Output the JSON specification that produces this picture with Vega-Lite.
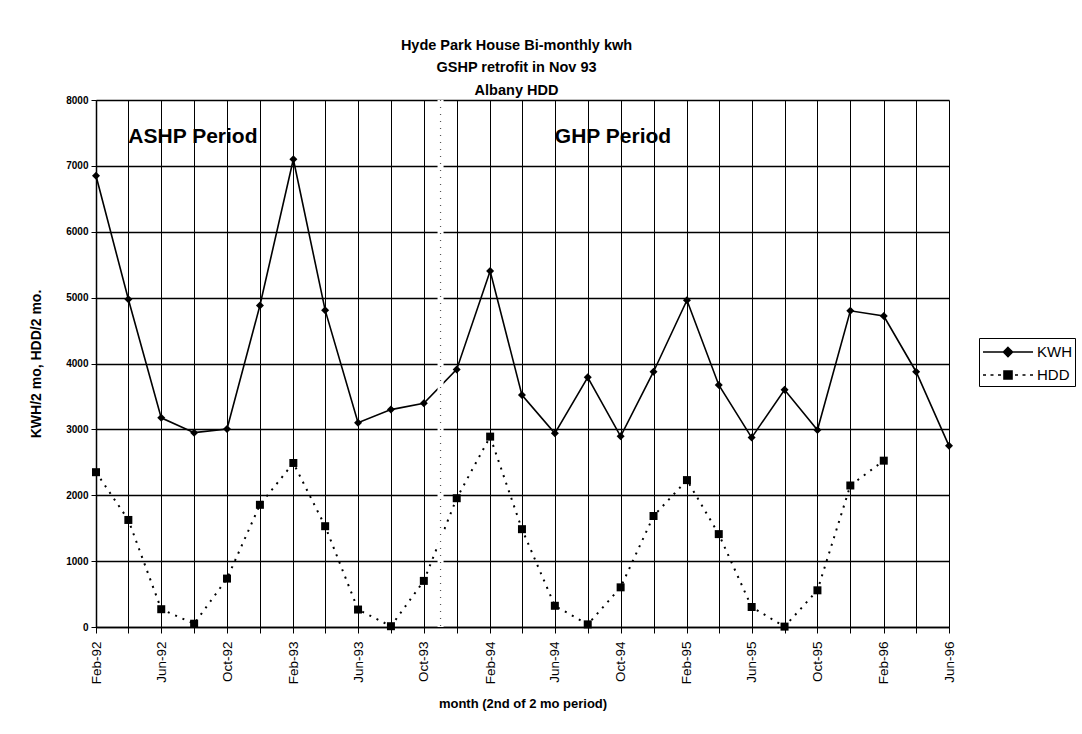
{
  "$schema": "https://vega.github.io/schema/vega-lite/v6.json",
  "width": 853,
  "height": 527,
  "autosize": {"type": "none"},
  "padding": {"left": 96, "top": 100, "right": 133, "bottom": 107},
  "background": "white",
  "config": {
    "view": {"stroke": null},
    "font": "Liberation Sans",
    "axis": {"gridColor": "black", "gridOpacity": 1, "domainColor": "black", "tickColor": "black", "labelColor": "black", "titleColor": "black"}
  },
  "title": {
    "text": ["Hyde Park House Bi-monthly kwh", "GSHP retrofit in Nov 93", "Albany HDD"],
    "font": "Liberation Sans",
    "fontSize": 14.5,
    "fontWeight": "bold",
    "lineHeight": 22.5,
    "anchor": "middle",
    "frame": "group",
    "offset": -3,
    "dx": -6,
    "color": "black"
  },
  "datasets": {
    "series": [
      {"date": "1992-02-01", "series": "KWH", "value": 6850},
      {"date": "1992-04-01", "series": "KWH", "value": 4975},
      {"date": "1992-06-01", "series": "KWH", "value": 3175},
      {"date": "1992-08-01", "series": "KWH", "value": 2950},
      {"date": "1992-10-01", "series": "KWH", "value": 3005},
      {"date": "1992-12-01", "series": "KWH", "value": 4880},
      {"date": "1993-02-01", "series": "KWH", "value": 7100},
      {"date": "1993-04-01", "series": "KWH", "value": 4810},
      {"date": "1993-06-01", "series": "KWH", "value": 3100},
      {"date": "1993-08-01", "series": "KWH", "value": 3300},
      {"date": "1993-10-01", "series": "KWH", "value": 3395},
      {"date": "1993-12-01", "series": "KWH", "value": 3910},
      {"date": "1994-02-01", "series": "KWH", "value": 5405},
      {"date": "1994-04-01", "series": "KWH", "value": 3520},
      {"date": "1994-06-01", "series": "KWH", "value": 2940},
      {"date": "1994-08-01", "series": "KWH", "value": 3790},
      {"date": "1994-10-01", "series": "KWH", "value": 2895},
      {"date": "1994-12-01", "series": "KWH", "value": 3875},
      {"date": "1995-02-01", "series": "KWH", "value": 4960},
      {"date": "1995-04-01", "series": "KWH", "value": 3675},
      {"date": "1995-06-01", "series": "KWH", "value": 2875},
      {"date": "1995-08-01", "series": "KWH", "value": 3600},
      {"date": "1995-10-01", "series": "KWH", "value": 2990},
      {"date": "1995-12-01", "series": "KWH", "value": 4800},
      {"date": "1996-02-01", "series": "KWH", "value": 4720},
      {"date": "1996-04-01", "series": "KWH", "value": 3875},
      {"date": "1996-06-01", "series": "KWH", "value": 2750},
      {"date": "1992-02-01", "series": "HDD", "value": 2350},
      {"date": "1992-04-01", "series": "HDD", "value": 1625},
      {"date": "1992-06-01", "series": "HDD", "value": 270},
      {"date": "1992-08-01", "series": "HDD", "value": 50},
      {"date": "1992-10-01", "series": "HDD", "value": 735},
      {"date": "1992-12-01", "series": "HDD", "value": 1855},
      {"date": "1993-02-01", "series": "HDD", "value": 2490},
      {"date": "1993-04-01", "series": "HDD", "value": 1530},
      {"date": "1993-06-01", "series": "HDD", "value": 265},
      {"date": "1993-08-01", "series": "HDD", "value": 12},
      {"date": "1993-10-01", "series": "HDD", "value": 700},
      {"date": "1993-12-01", "series": "HDD", "value": 1955},
      {"date": "1994-02-01", "series": "HDD", "value": 2890},
      {"date": "1994-04-01", "series": "HDD", "value": 1485},
      {"date": "1994-06-01", "series": "HDD", "value": 322},
      {"date": "1994-08-01", "series": "HDD", "value": 40},
      {"date": "1994-10-01", "series": "HDD", "value": 602},
      {"date": "1994-12-01", "series": "HDD", "value": 1685},
      {"date": "1995-02-01", "series": "HDD", "value": 2230},
      {"date": "1995-04-01", "series": "HDD", "value": 1410},
      {"date": "1995-06-01", "series": "HDD", "value": 304},
      {"date": "1995-08-01", "series": "HDD", "value": 6},
      {"date": "1995-10-01", "series": "HDD", "value": 557},
      {"date": "1995-12-01", "series": "HDD", "value": 2148},
      {"date": "1996-02-01", "series": "HDD", "value": 2525}
    ],
    "separator": [{"date": "1993-11-01"}],
    "notes": [
      {"date": "1992-04-01", "value": 7440, "label": "ASHP Period"},
      {"date": "1994-06-01", "value": 7440, "label": "GHP Period"}
    ]
  },
  "encoding": {
    "x": {
      "field": "date",
      "type": "temporal",
      "scale": {
        "type": "utc",
        "nice": false,
        "domain": [
          {"year": 1992, "month": 2, "date": 1, "utc": true},
          {"year": 1996, "month": 6, "date": 1, "utc": true}
        ]
      },
      "axis": {
        "title": "month (2nd of 2 mo period)",
        "titleFontSize": 13,
        "titleFontWeight": "bold",
        "titlePadding": 14,
        "labelAngle": -90,
        "labelFontSize": 13.5,
        "labelPadding": 8,
        "labelOverlap": false,
        "labelFlush": false,
        "tickSize": 6,
        "grid": true,
        "gridWidth": 1,
        "domainWidth": 1.5,
        "labelExpr": "utcmonth(datum.value) % 4 == 1 ? utcFormat(datum.value, '%b-%y') : ''",
        "values": [
          {"year": 1992, "month": 2, "date": 1, "utc": true},
          {"year": 1992, "month": 4, "date": 1, "utc": true},
          {"year": 1992, "month": 6, "date": 1, "utc": true},
          {"year": 1992, "month": 8, "date": 1, "utc": true},
          {"year": 1992, "month": 10, "date": 1, "utc": true},
          {"year": 1992, "month": 12, "date": 1, "utc": true},
          {"year": 1993, "month": 2, "date": 1, "utc": true},
          {"year": 1993, "month": 4, "date": 1, "utc": true},
          {"year": 1993, "month": 6, "date": 1, "utc": true},
          {"year": 1993, "month": 8, "date": 1, "utc": true},
          {"year": 1993, "month": 10, "date": 1, "utc": true},
          {"year": 1993, "month": 12, "date": 1, "utc": true},
          {"year": 1994, "month": 2, "date": 1, "utc": true},
          {"year": 1994, "month": 4, "date": 1, "utc": true},
          {"year": 1994, "month": 6, "date": 1, "utc": true},
          {"year": 1994, "month": 8, "date": 1, "utc": true},
          {"year": 1994, "month": 10, "date": 1, "utc": true},
          {"year": 1994, "month": 12, "date": 1, "utc": true},
          {"year": 1995, "month": 2, "date": 1, "utc": true},
          {"year": 1995, "month": 4, "date": 1, "utc": true},
          {"year": 1995, "month": 6, "date": 1, "utc": true},
          {"year": 1995, "month": 8, "date": 1, "utc": true},
          {"year": 1995, "month": 10, "date": 1, "utc": true},
          {"year": 1995, "month": 12, "date": 1, "utc": true},
          {"year": 1996, "month": 2, "date": 1, "utc": true},
          {"year": 1996, "month": 4, "date": 1, "utc": true},
          {"year": 1996, "month": 6, "date": 1, "utc": true}
        ]
      }
    }
  },
  "layer": [
    {
      "data": {"name": "series"},
      "transform": [{"filter": "datum.series === 'KWH'"}],
      "mark": {"type": "line", "color": "black", "strokeWidth": 1.6},
      "encoding": {
        "y": {
          "field": "value",
          "type": "quantitative",
          "scale": {"domain": [0, 8000], "nice": false},
          "axis": {
            "title": "KWH/2 mo, HDD/2 mo.",
            "titleFontSize": 14,
            "titleFontWeight": "bold",
            "titlePadding": 22,
            "values": [0, 1000, 2000, 3000, 4000, 5000, 6000, 7000, 8000],
            "format": "d",
            "labelFontSize": 10,
            "labelFontWeight": "bold",
            "labelPadding": 3,
            "tickSize": 5,
            "grid": true,
            "gridWidth": 1.4,
            "domainWidth": 1.5
          }
        }
      }
    },
    {
      "data": {"name": "series"},
      "transform": [{"filter": "datum.series === 'HDD'"}],
      "mark": {"type": "line", "color": "black", "strokeWidth": 2, "strokeDash": [2, 6]},
      "encoding": {"y": {"field": "value", "type": "quantitative"}}
    },
    {
      "data": {"name": "separator"},
      "mark": {"type": "rule", "color": "white", "strokeWidth": 6},
      "encoding": {"x": {"field": "date", "type": "temporal"}}
    },
    {
      "data": {"name": "separator"},
      "mark": {"type": "rule", "color": "#555555", "strokeWidth": 1.2, "strokeDash": [1, 6]},
      "encoding": {"x": {"field": "date", "type": "temporal"}}
    },
    {
      "data": {"name": "series"},
      "transform": [{"filter": "datum.series === 'KWH'"}],
      "mark": {"type": "point", "shape": "diamond", "filled": true, "color": "black", "opacity": 1, "size": 64},
      "encoding": {"y": {"field": "value", "type": "quantitative"}}
    },
    {
      "data": {"name": "series"},
      "transform": [{"filter": "datum.series === 'HDD'"}],
      "mark": {"type": "point", "shape": "square", "filled": true, "color": "black", "opacity": 1, "size": 64},
      "encoding": {"y": {"field": "value", "type": "quantitative"}}
    },
    {
      "data": {"name": "series"},
      "mark": {"type": "point", "filled": false, "color": "black", "strokeWidth": 1.6, "size": 0},
      "encoding": {
        "y": {"field": "value", "type": "quantitative"},
        "shape": {
          "field": "series",
          "type": "nominal",
          "scale": {
            "domain": ["KWH", "HDD"],
            "range": [
              "M-1,0H4M1.5,-0.45L1.95,0L1.5,0.45L1.05,0ZM1.41,-0.36H1.59M1.29,-0.24H1.71M1.17,-0.12H1.83M1.17,0.12H1.83M1.29,0.24H1.71M1.41,0.36H1.59",
              "M-1,0H-0.7M-0.25,0H0.05M0.5,0H0.8M1.1,-0.4H1.9V0.4H1.1ZM1.1,-0.3H1.9M1.1,-0.2H1.9M1.1,-0.1H1.9M1.1,0H1.9M1.1,0.1H1.9M1.1,0.2H1.9M1.1,0.3H1.9M2.2,0H2.5M2.95,0H3.25M3.7,0H4"
            ]
          },
          "legend": {
            "title": null,
            "orient": "none",
            "legendX": 883,
            "legendY": 238,
            "strokeColor": "black",
            "fillColor": "white",
            "padding": 3,
            "rowPadding": 4,
            "labelFontSize": 15,
            "labelColor": "black",
            "labelOffset": 33,
            "symbolSize": 400,
            "symbolStrokeWidth": 1.6,
            "symbolStrokeColor": "black",
            "symbolOpacity": 1
          }
        }
      }
    },
    {
      "data": {"name": "notes"},
      "mark": {"type": "text", "align": "left", "baseline": "middle", "fontSize": 21, "fontWeight": "bold", "color": "black"},
      "encoding": {
        "y": {"field": "value", "type": "quantitative"},
        "text": {"field": "label"}
      }
    }
  ]
}
